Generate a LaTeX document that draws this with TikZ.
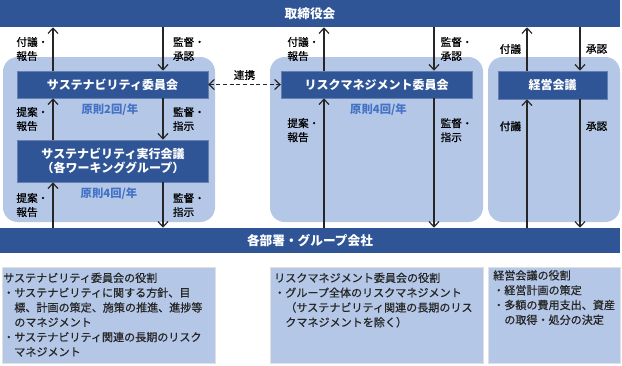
\documentclass[tikz,border=0pt]{standalone}
\usepackage{fontspec}
\setmainfont{Noto Sans CJK JP}
\newfontfamily\jpmid{Noto Sans CJK JP}[FakeBold=0.6]
\usepackage{xcolor}
\usetikzlibrary{positioning,arrows.meta}

\definecolor{boardblue}{RGB}{47,85,151}
\definecolor{paleblue}{RGB}{180,199,231}
\definecolor{freqblue}{RGB}{68,114,196}
\definecolor{memotext}{RGB}{38,38,38}

\begin{document}
\begin{tikzpicture}[x=0.75pt, y=-0.75pt, >={Straight Barb[length=4pt,width=7.5pt]}, bar/.style = {fill=boardblue, text=white, font=\bfseries\fontsize{9.5}{11}\selectfont, minimum width=465pt, inner sep=0pt}, body/.style = {fill=boardblue, draw=boardblue!75!white, line width=0.5pt, text=white, font=\bfseries\fontsize{9}{10.5}\selectfont, align=center, inner sep=0pt}, flow/.style = {->, line width=0.9pt, draw=black!85}, tag/.style = {font=\jpmid\fontsize{8}{10.5}\selectfont, align=left, inner sep=1pt}, freq/.style = {text=freqblue, font=\bfseries\fontsize{8.5}{10}\selectfont, inner sep=1pt}, memo/.style = {anchor=north west, align=left, inner sep=0pt, text=memotext, font=\jpmid\fontsize{8.3}{11.1}\selectfont}]

\useasboundingbox (0,0) rectangle (622,365);

% background regions
\fill[paleblue, rounded corners=11pt] (3,57) rectangle (215,222);
\fill[paleblue, rounded corners=11pt] (270,57) rectangle (483,222);
\fill[paleblue, rounded corners=11pt] (488,57) rectangle (620,222);
\filldraw[paleblue, draw=black!12] (2,267) rectangle (215,363);
\filldraw[paleblue, draw=black!12] (270,267) rectangle (483,363);
\filldraw[paleblue, draw=black!12] (488,267) rectangle (620,363);

\node[bar, minimum height=20.25pt] (board) at (310,13.5) {取締役会};
\node[bar, minimum height=18.75pt] (depts) at (310,240.5) {各部署・グループ会社};

\node[body, minimum width=143pt, minimum height=20.25pt] (susCom) at (112.5,84.5) {サステナビリティ委員会};
\node[body, minimum width=143pt, minimum height=31.5pt] (susExec) at (113,161) {サステナビリティ実行会議\\（各ワーキンググループ）};
\node[body, minimum width=143pt, minimum height=20.25pt] (riskCom) at (376.5,84.5) {リスクマネジメント委員会};
\node[body, minimum width=81.75pt, minimum height=21pt] (mgmt) at (552.5,85) {経営会議};

\node[freq, below=2.5pt of susCom, xshift=-2pt] (susFreq) {原則2回/年};
\node[freq, below=3pt of susExec, xshift=-3pt] (execFreq) {原則4回/年};
\node[freq, below=2.5pt of riskCom, xshift=1.5pt] (riskFreq) {原則4回/年};

% arrow columns
\coordinate (lu) at (53,0);
\coordinate (ld) at (163,0);
\coordinate (mu) at (324,0);
\coordinate (md) at (434,0);
\coordinate (ru) at (527,0);
\coordinate (rd) at (580,0);

\path
 (susCom.north -| lu) edge[flow] node[tag, left=2pt] {付議・\\報告} (board.south -| lu)
 (board.south -| ld) edge[flow] node[tag, right=6pt] {監督・\\承認} (susCom.north -| ld)
 (susExec.north -| lu) edge[flow] node[tag, left=2pt] {提案・\\報告} (susCom.south -| lu)
 (susCom.south -| ld) edge[flow] node[tag, right=6pt] {監督・\\指示} (susExec.north -| ld)
 (depts.north -| lu) edge[flow] node[tag, left=2pt] {提案・\\報告} (susExec.south -| lu)
 (susExec.south -| ld) edge[flow] node[tag, right=6pt] {監督・\\指示} (depts.north -| ld);

\path
 (riskCom.north -| mu) edge[flow] node[tag, left=2pt] {付議・\\報告} (board.south -| mu)
 (board.south -| md) edge[flow] node[tag, right=3.5pt] {監督・\\承認} (riskCom.north -| md)
 (depts.north -| mu) edge[flow] node[tag, left=2pt, pos=0.754] {提案・\\報告} (riskCom.south -| mu)
 (riskCom.south -| md) edge[flow] node[tag, right=3.5pt, pos=0.246] {監督・\\指示} (depts.north -| md);

\path
 (mgmt.north -| ru) edge[flow] node[tag, left=3pt] {付議} (board.south -| ru)
 (board.south -| rd) edge[flow] node[tag, right=3pt] {承認} (mgmt.north -| rd)
 (depts.north -| ru) edge[flow] node[tag, left=3pt, pos=0.79] {付議} (mgmt.south -| ru)
 (mgmt.south -| rd) edge[flow] node[tag, right=3pt, pos=0.21] {承認} (depts.north -| rd);

\draw[<->, line width=0.9pt, draw=black!85, dash pattern=on 3pt off 2pt] (susCom) -- node[tag, above=2pt] {連携} (riskCom);

% role notes
\node[memo] (susRole) at (3,272.5) {サステナビリティ委員会の役割\\・サステナビリティに関する方針、目\\\hphantom{・}標、計画の策定、施策の推進、進捗等\\\hphantom{・}のマネジメント\\・サステナビリティ関連の長期のリスク\\\hphantom{・}マネジメント};
\node[memo] (riskRole) at (274,272.5) {リスクマネジメント委員会の役割\\・グループ全体のリスクマネジメント\\\hphantom{・}（サステナビリティ関連の長期のリス\\\hphantom{・}クマネジメントを除く）};
\node[memo] (mgmtRole) at (493,270) {経営会議の役割\\・経営計画の策定\\・多額の費用支出、資産\\\hphantom{・}の取得・処分の決定};
\end{tikzpicture}
\end{document}
